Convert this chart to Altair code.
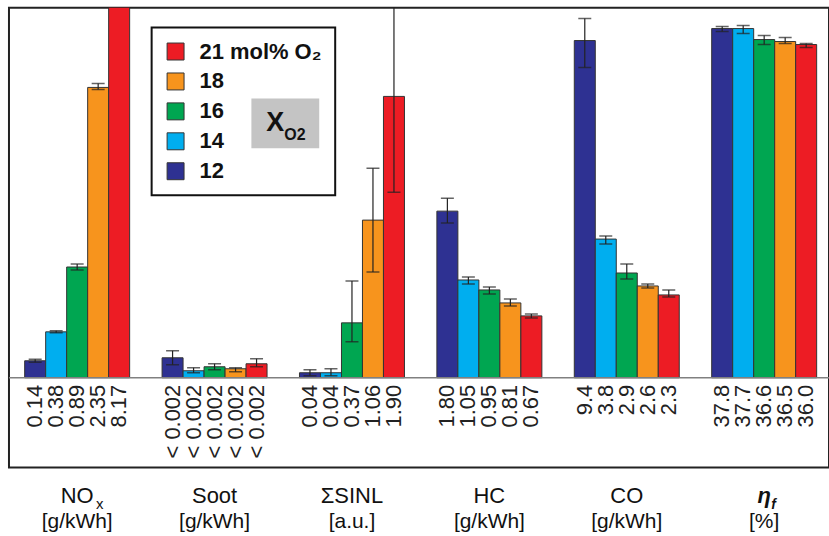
import altair as alt
import pandas as pd

# ---------------- data ----------------
groups = ["NOx", "Soot", "SINL", "HC", "CO", "eta"]
levels = ["12", "14", "16", "18", "21"]
colors = ["#2e3192", "#00aeef", "#00a651", "#f7941d", "#ed1c24"]

# displayed bar heights (arbitrary display units, each quantity scaled separately)
heights = {
    "NOx":  [17, 46, 111, 291, 1009],
    "Soot": [20, 7, 11, 9, 14],
    "SINL": [5, 5, 55, 158, 282],
    "HC":   [167, 98, 88, 75, 62],
    "CO":   [338, 139, 105, 92, 83],
    "eta":  [350, 350, 339, 337, 334],
}
err_lo = {
    "NOx":  [15.5, 45, 108, 289, None],
    "Soot": [13, 5, 8, 6, 11],
    "SINL": [2, 2, 36, 106, 186],
    "HC":   [155, 94, 84, 72, 60],
    "CO":   [311, 134, 99, 90, 81],
    "eta":  [347, 345, 334, 335, 331],
}
err_hi = {
    "NOx":  [18.5, 47, 114, 295, None],
    "Soot": [27, 10, 14, 10, 19],
    "SINL": [8, 9, 97, 210, 600],
    "HC":   [180, 101, 91, 79, 64],
    "CO":   [360, 142, 114, 94, 88],
    "eta":  [352, 353, 343, 341, 335],
}
value_labels = {
    "NOx":  ["0.14", "0.38", "0.89", "2.35", "8.17"],
    "Soot": ["< 0.002"] * 5,
    "SINL": ["0.04", "0.04", "0.37", "1.06", "1.90"],
    "HC":   ["1.80", "1.05", "0.95", "0.81", "0.67"],
    "CO":   ["9.4", "3.8", "2.9", "2.6", "2.3"],
    "eta":  ["37.8", "37.7", "36.6", "36.5", "36.0"],
}
cat_main = ["NO", "Soot", "ΣSINL", "HC", "CO", "η"]
cat_unit = ["[g/kWh]", "[g/kWh]", "[a.u.]", "[g/kWh]", "[g/kWh]", "[%]"]

rows = []
for g in groups:
    for i, lv in enumerate(levels):
        rows.append(dict(group=g, level=lv, h=heights[g][i],
                         lo=err_lo[g][i], hi=err_hi[g][i],
                         label=value_labels[g][i]))
df = pd.DataFrame(rows)
caps = df.melt(id_vars=["group", "level"], value_vars=["lo", "hi"],
               value_name="v").dropna()
cats = pd.DataFrame({"group": groups, "main": cat_main, "unit": cat_unit})

FONT = "Liberation Sans"
INK = "#111111"

# ---------------- encodings ----------------
xenc = alt.X("group:N", sort=groups, axis=None,
             scale=alt.Scale(paddingInner=0.236, paddingOuter=0.102, align=0.56))
xoff = alt.XOffset("level:N", sort=levels,
                   scale=alt.Scale(paddingInner=0, paddingOuter=0))
yscale = alt.Scale(domain=[-90, 371], nice=False, zero=False)

base = alt.Chart(df)

bars = base.mark_bar(stroke="#333333", strokeWidth=1, clip=True).encode(
    x=xenc, xOffset=xoff,
    y=alt.Y("h:Q", scale=yscale, axis=None),
    y2=alt.datum(0),
    color=alt.Color(
        "level:N",
        scale=alt.Scale(domain=levels[::-1], range=colors[::-1]),
        legend=alt.Legend(
            title=None, orient="none", legendX=143, legendY=20,
            padding=13, strokeColor=INK,
            symbolType="square", symbolSize=289,
            symbolStrokeColor="#333333", symbolStrokeWidth=1, symbolOpacity=1,
            labelFontSize=22, labelFontWeight="bold", labelFont=FONT,
            labelColor=INK, rowPadding=8, labelOffset=13,
            labelExpr="datum.label == '21' ? '21 mol% O₂\u00a0\u00a0\u00a0\u00a0\u00a0' : datum.label",
        ),
    ),
)

baseline = alt.Chart(pd.DataFrame({"z": [0]})).mark_rule(
    color="#808080", strokeWidth=1.5).encode(
    y=alt.Y("z:Q", scale=yscale, axis=None))

err_rules = base.mark_rule(color="#222222", strokeWidth=1.2, clip=True).encode(
    x=xenc, xOffset=xoff,
    y=alt.Y("lo:Q", scale=yscale, axis=None), y2="hi:Q")

err_caps = alt.Chart(caps).mark_tick(color="#222222", thickness=1.5, size=13,
                                     clip=True).encode(
    x=xenc, xOffset=xoff, y=alt.Y("v:Q", scale=yscale, axis=None))

vlabels = base.mark_text(angle=270, align="right", baseline="middle",
                         fontSize=22, font=FONT, color="#222222").encode(
    x=xenc, xOffset=xoff,
    y=alt.YDatum(-7, scale=yscale, axis=None),
    text="label:N")

cbase = alt.Chart(cats)
cat_main_txt = cbase.transform_filter("datum.group != 'eta'").mark_text(
    fontSize=22, font=FONT, baseline="alphabetic", color=INK).encode(
    x=xenc, y=alt.value(497), text="main:N")
cat_eta = cbase.transform_filter("datum.group == 'eta'").mark_text(
    fontSize=22, font=FONT, baseline="alphabetic", fontStyle="italic",
    fontWeight="bold", color=INK).encode(
    x=xenc, y=alt.value(497), text="main:N")
sub_x = cbase.transform_filter("datum.group == 'NOx'").mark_text(
    fontSize=15, font=FONT, baseline="alphabetic", align="left", dx=19,
    color=INK).encode(x=xenc, y=alt.value(503), text=alt.value("x"))
sub_f = cbase.transform_filter("datum.group == 'eta'").mark_text(
    fontSize=14, font=FONT, baseline="alphabetic", align="left", dx=7,
    fontWeight="bold", fontStyle="italic",
    color=INK).encode(x=xenc, y=alt.value(503), text=alt.value("f"))
cat_unit_txt = cbase.mark_text(
    fontSize=21, font=FONT, baseline="alphabetic", color=INK).encode(
    x=xenc, y=alt.value(522), text="unit:N")

one = alt.Chart(pd.DataFrame({"a": [0]}))
xo2_box = one.mark_rect(color="#c4c4c4").encode(
    x=alt.value(243), x2=alt.value(311), y=alt.value(91), y2=alt.value(141))
xo2_X = one.mark_text(fontSize=27, font=FONT, fontWeight="bold",
                      baseline="alphabetic", align="center", color=INK).encode(
    x=alt.value(267), y=alt.value(124), text=alt.value("X"))
xo2_sub = one.mark_text(fontSize=16, font=FONT, fontWeight="bold",
                        baseline="alphabetic", align="left", color=INK).encode(
    x=alt.value(276), y=alt.value(133), text=alt.value("O2"))

chart = alt.layer(
    bars, baseline, err_rules, err_caps, vlabels,
    cat_main_txt, cat_eta, sub_x, sub_f, cat_unit_txt,
    xo2_box, xo2_X, xo2_sub,
).properties(
    width=822, height=461,
    padding={"left": 9, "top": 7, "right": 0, "bottom": 68},
    autosize=alt.AutoSizeParams(type="none"),
).configure(
    font=FONT
).configure_view(
    stroke="#222222", strokeWidth=2
).configure_legend(
    strokeWidth=2
)

chart.save("out.html", embed_options={"renderer": "svg", "actions": False})
